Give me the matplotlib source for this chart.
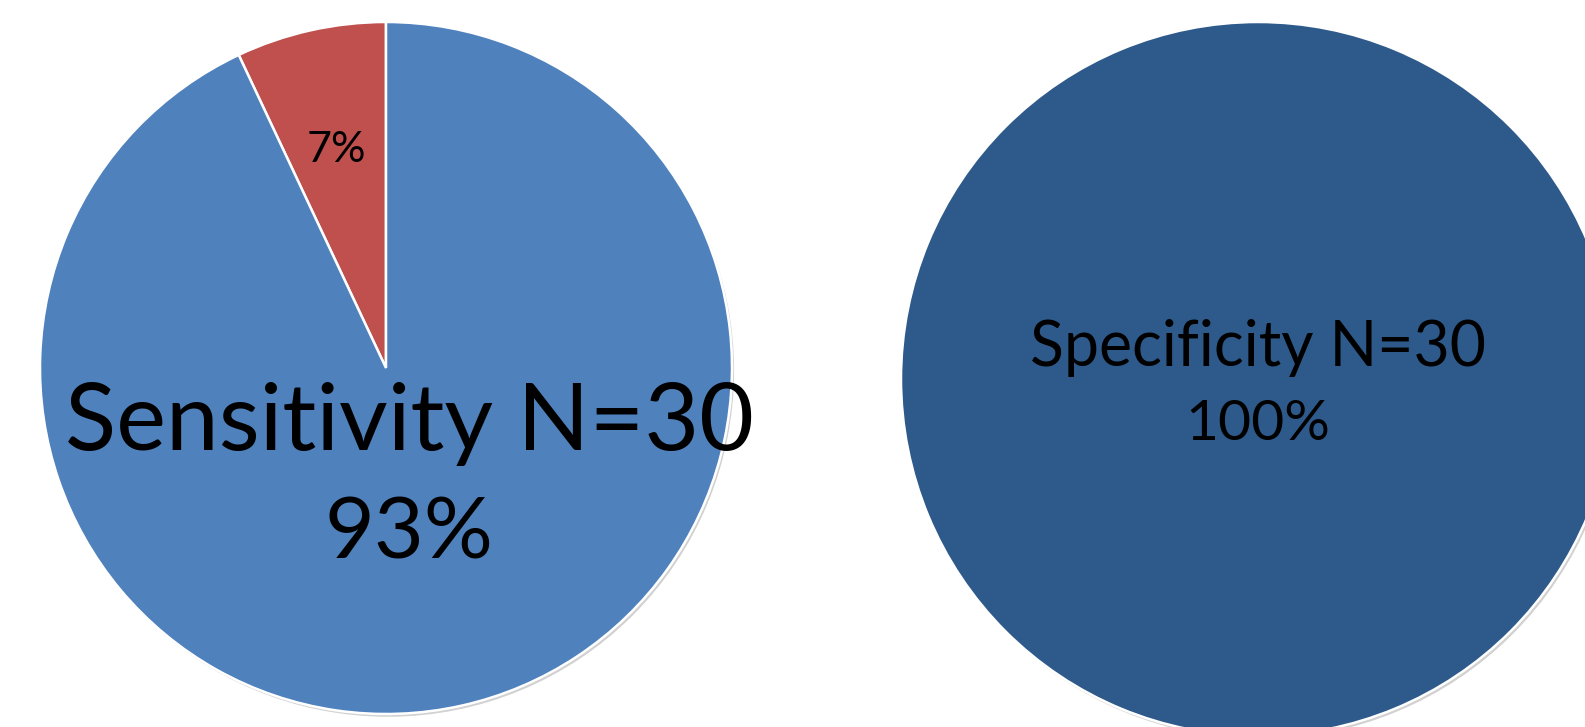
import matplotlib
matplotlib.use("Agg")
import matplotlib.pyplot as plt
from matplotlib.patches import Circle

plt.rcParams['font.family'] = ['Lato', 'DejaVu Sans']

# Data
sens_labels = ["Negative", "Positive"]
sens_values = [7, 93]
sens_colors = ["#C0504D", "#4F81BD"]
spec_values = [100]
spec_colors = ["#2E5A8B"]
sens_title = "Sensitivity N=30"
spec_title = "Specificity N=30"

W, H = 1585, 727
fig = plt.figure(figsize=(W / 100, H / 100), dpi=100)

def axes_px(cx, cy, r):
    return fig.add_axes([(cx - r) / W, (H - cy - r) / H, 2 * r / W, 2 * r / H])

def shadow(ax):
    ax.add_patch(Circle((0.006, -0.008), 1.0, facecolor="#9a9a9a", alpha=0.45,
                        edgecolor="none", zorder=0, clip_on=False))

# Left pie
ax1 = axes_px(386, 368, 346)
shadow(ax1)
ax1.pie(sens_values, colors=sens_colors, startangle=90, counterclock=True,
        radius=1, wedgeprops=dict(edgecolor="white", linewidth=1.8, clip_on=False))
ax1.set_xlim(-1.0, 1.0)
ax1.set_ylim(-1.0, 1.0)
ax1.set_aspect("equal")
ax1.axis("off")
ax1.text(-0.142, 0.595, f"{sens_values[0]}%", fontsize=31, ha="center", va="baseline", color="black")
ax1.text(0.069, -0.237, sens_title, fontsize=68, ha="center", va="baseline", color="black")
ax1.text(0.066, -0.552, f"{sens_values[1]}%", fontsize=62, ha="center", va="baseline", color="black")

# Right pie
ax2 = axes_px(1258, 379, 357)
shadow(ax2)
ax2.pie(spec_values, colors=spec_colors, startangle=90, radius=1,
        wedgeprops=dict(edgecolor="white", linewidth=1.8, clip_on=False))
ax2.set_xlim(-1.0, 1.0)
ax2.set_ylim(-1.0, 1.0)
ax2.set_aspect("equal")
ax2.axis("off")
ax2.text(0.0, 0.036, spec_title, fontsize=45, ha="center", va="baseline", color="black")
ax2.text(0.0, -0.171, f"{spec_values[0]}%", fontsize=41, ha="center", va="baseline", color="black")

fig.savefig("out.png", dpi=100, facecolor="white")
